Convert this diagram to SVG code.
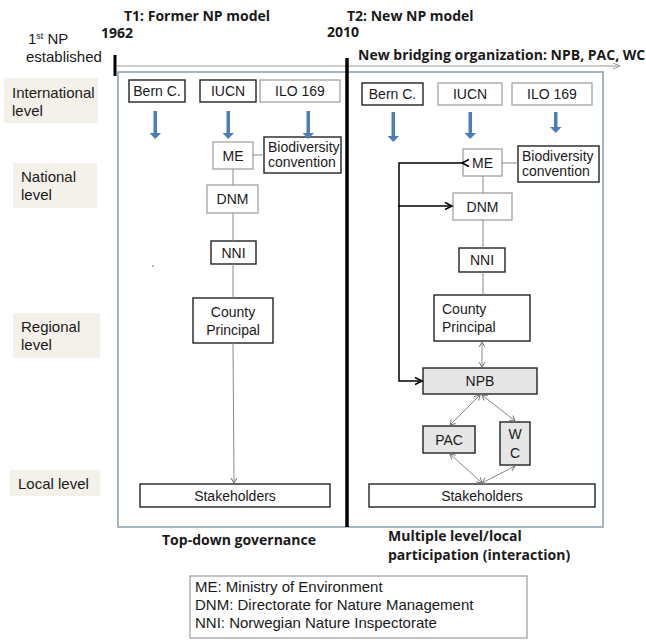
<svg xmlns="http://www.w3.org/2000/svg" width="646" height="640" viewBox="0 0 646 640">
<defs>
<marker id="thin" markerWidth="8" markerHeight="8" refX="6" refY="4" orient="auto" markerUnits="userSpaceOnUse">
<path d="M1,1 L6,4 L1,7" fill="none" stroke="#777" stroke-width="1"/>
</marker>
<marker id="thinS" markerWidth="8" markerHeight="8" refX="2" refY="4" orient="auto" markerUnits="userSpaceOnUse">
<path d="M7,1 L2,4 L7,7" fill="none" stroke="#777" stroke-width="1"/>
</marker>
<marker id="blk" markerWidth="10" markerHeight="10" refX="8" refY="5" orient="auto" markerUnits="userSpaceOnUse">
<path d="M1,1.5 L8,5 L1,8.5" fill="none" stroke="#000" stroke-width="1.5"/>
</marker>
<marker id="tl" markerWidth="10" markerHeight="10" refX="8" refY="5" orient="auto" markerUnits="userSpaceOnUse">
<path d="M1,2 L8,5 L1,8" fill="none" stroke="#999" stroke-width="1"/>
</marker>
</defs>
<style>
text{font-family:"Liberation Sans",Arial,sans-serif;font-size:14px;fill:#1a1a1a}
.b{font-weight:bold;font-family:"Open Sans","Liberation Sans",sans-serif;font-size:14px}
.c{text-anchor:middle}
.lv{font-size:15px}
.lg{font-size:15px}
.bx{fill:#fff;stroke:#222;stroke-width:1.4}
.lt{fill:#fff;stroke:#9a9a9a;stroke-width:1.2}
.gr{fill:#e6e6e6;stroke:#222;stroke-width:1.4}
.lvl{fill:#f3f1ea}
.ln{stroke:#888;stroke-width:1;fill:none}
.blue{fill:#4a7ebb}
</style>
<rect width="646" height="640" fill="#fff"/>

<!-- header texts -->
<text class="b" x="124" y="21">T1: Former NP model</text>
<text class="b" x="101" y="38">1962</text>
<text class="lv" x="28" y="44">1<tspan font-size="9" dy="-5">st</tspan><tspan dy="5"> NP</tspan></text>
<text class="lv" x="26" y="62">established</text>
<text class="b" x="347" y="21">T2: New NP model</text>
<text class="b" x="327" y="37">2010</text>
<text class="b" x="358" y="60">New bridging organization: NPB, PAC, WC</text>

<!-- level labels -->
<g id="lvl-int"><rect class="lvl" x="4" y="78" width="94" height="45"/><text class="lv" x="12" y="98">International</text><text class="lv" x="12" y="116">level</text></g>
<g id="lvl-nat"><rect class="lvl" x="13" y="163" width="84" height="45"/><text class="lv" x="21" y="182">National</text><text class="lv" x="21" y="200">level</text></g>
<g id="lvl-reg"><rect class="lvl" x="13" y="313" width="87" height="45"/><text class="lv" x="21" y="332">Regional</text><text class="lv" x="21" y="350">level</text></g>
<g id="lvl-loc"><rect class="lvl" x="10" y="470" width="90" height="26"/><text class="lv" x="18" y="489">Local level</text></g>

<!-- frame and timeline -->
<rect x="118" y="72" width="485" height="455" fill="none" stroke="#8ea3b5" stroke-width="1.6"/>
<line x1="117" y1="66" x2="620" y2="66" stroke="#999" stroke-width="1.2" marker-end="url(#tl)"/>
<line x1="115" y1="55" x2="115" y2="76" stroke="#000" stroke-width="3"/>
<line x1="347" y1="58" x2="347" y2="527" stroke="#000" stroke-width="3.5"/>

<!-- left panel nodes -->
<g id="l-bern"><rect class="bx" x="129" y="80" width="56" height="22"/><text class="c" x="157" y="96">Bern C.</text></g>
<g id="l-iucn"><rect class="bx" x="200" y="80" width="56" height="22"/><text class="c" x="228" y="96">IUCN</text></g>
<g id="l-ilo"><rect class="lt" x="260" y="80" width="80" height="22"/><text class="c" x="300" y="96">ILO  169</text></g>
<g id="l-me"><rect class="lt" x="213" y="142" width="40" height="27"/><text class="c" x="233" y="161">ME</text></g>
<g id="l-bio"><rect class="bx" x="264" y="137" width="77" height="36"/><text x="268" y="152" font-size="13">Biodiversity</text><text x="268" y="167" font-size="13">convention</text></g>
<g id="l-dnm"><rect class="lt" x="207" y="185" width="51" height="28"/><text class="c" x="232.5" y="204">DNM</text></g>
<g id="l-nni"><rect class="bx" x="211" y="241" width="45" height="23" stroke-width="2"/><text class="c" x="233.5" y="258">NNI</text></g>
<g id="l-county"><rect class="bx" x="193" y="298" width="80" height="45"/><text class="c" x="233" y="317">County</text><text class="c" x="233" y="335">Principal</text></g>
<g id="l-stake"><rect class="bx" x="140" y="484" width="190" height="23"/><text class="c" x="235" y="501" font-size="14.5">Stakeholders</text></g>
<circle cx="153" cy="266" r="0.8" fill="#555"/>

<!-- right panel nodes -->
<g id="r-bern"><rect class="bx" x="362" y="83" width="61" height="22"/><text class="c" x="392.5" y="99">Bern C.</text></g>
<g id="r-iucn"><rect class="lt" x="438" y="83" width="64" height="22"/><text class="c" x="470" y="99">IUCN</text></g>
<g id="r-ilo"><rect class="lt" x="512" y="83" width="80" height="22"/><text class="c" x="552" y="99">ILO  169</text></g>
<g id="r-me"><rect class="lt" x="463" y="149" width="39" height="27"/><text class="c" x="482.5" y="168">ME</text></g>
<g id="r-bio"><rect class="bx" x="518" y="146" width="81" height="36"/><text x="522" y="161" font-size="13">Biodiversity</text><text x="522" y="176" font-size="13">convention</text></g>
<g id="r-dnm"><rect class="lt" x="453" y="193" width="59" height="27"/><text class="c" x="482.5" y="212">DNM</text></g>
<g id="r-nni"><rect class="bx" x="459" y="248" width="46" height="24"/><text class="c" x="482" y="265">NNI</text></g>
<g id="r-county"><rect class="bx" x="434" y="295" width="96" height="46"/><text x="442" y="314">County</text><text x="442" y="332">Principal</text></g>
<g id="r-npb"><rect class="gr" x="423" y="368" width="114" height="26"/><text class="c" x="480" y="386">NPB</text></g>
<g id="r-pac"><rect class="gr" x="423" y="426" width="52" height="27"/><text class="c" x="449" y="445">PAC</text></g>
<g id="r-wc"><rect class="gr" x="500" y="422" width="30" height="43"/><text class="c" x="515" y="439">W</text><text class="c" x="515" y="458">C</text></g>
<g id="r-stake"><rect class="bx" x="369" y="484" width="226" height="23"/><text class="c" x="482" y="501" font-size="14.5">Stakeholders</text></g>

<!-- connectors -->
<g id="connectors">
<path class="blue" d="M153.5,111 h3.5 v22 h4 l-5.75,6 l-5.75,-6 h4 z"/>
<path class="blue" d="M226.5,111 h3.5 v22 h4 l-5.75,6 l-5.75,-6 h4 z"/>
<path class="blue" d="M306.5,111 h3.5 v22 h4 l-5.75,6 l-5.75,-6 h4 z"/>
<path class="blue" d="M391.5,112 h3.5 v24 h4 l-5.75,6 l-5.75,-6 h4 z"/>
<path class="blue" d="M468.5,112 h3.5 v21 h4 l-5.75,6 l-5.75,-6 h4 z"/>
<path class="blue" d="M554,112 h3.5 v15 h4 l-5.75,6 l-5.75,-6 h4 z"/>

<line class="ln" x1="253" y1="155" x2="264" y2="155"/>
<line class="ln" x1="233" y1="169" x2="233" y2="185"/>
<line class="ln" x1="233" y1="213" x2="233" y2="241"/>
<line class="ln" x1="233" y1="264" x2="233" y2="298"/>
<line class="ln" x1="233" y1="343" x2="234" y2="483" marker-end="url(#thin)"/>

<line class="ln" x1="502" y1="163" x2="518" y2="163"/>
<line class="ln" x1="483" y1="176" x2="483" y2="193"/>
<line class="ln" x1="483" y1="220" x2="483" y2="248"/>
<line class="ln" x1="483" y1="272" x2="483" y2="295"/>
<line class="ln" x1="482" y1="342" x2="482" y2="367" marker-start="url(#thinS)" marker-end="url(#thin)"/>
<line class="ln" x1="480" y1="395" x2="450" y2="425" marker-start="url(#thinS)" marker-end="url(#thin)"/>
<line class="ln" x1="482" y1="395" x2="515" y2="421" marker-start="url(#thinS)" marker-end="url(#thin)"/>
<line class="ln" x1="450" y1="454" x2="482" y2="483" marker-start="url(#thinS)" marker-end="url(#thin)"/>
<line class="ln" x1="515" y1="466" x2="482" y2="483" marker-start="url(#thinS)" marker-end="url(#thin)"/>

<path d="M463,163 H399 V381 H422" fill="none" stroke="#000" stroke-width="1.5" marker-end="url(#blk)"/>
<line x1="463" y1="163" x2="462" y2="163" stroke="#000" stroke-width="1.5" marker-end="url(#blk)"/>
<line x1="398" y1="206" x2="452" y2="206" stroke="#000" stroke-width="1.5" marker-end="url(#blk)"/>
</g>

<!-- bottom texts -->
<text class="b" x="162" y="545">Top-down governance</text>
<text class="b" x="388" y="541">Multiple level/local</text>
<text class="b" x="388" y="560">participation (interaction)</text>

<g id="legend">
<rect x="190" y="576" width="337" height="62" fill="#fff" stroke="#888" stroke-width="1"/>
<text class="lg" x="195" y="592">ME: Ministry of Environment</text>
<text class="lg" x="195" y="610">DNM: Directorate for Nature Management</text>
<text class="lg" x="195" y="628">NNI: Norwegian Nature Inspectorate</text>
</g>
</svg>
